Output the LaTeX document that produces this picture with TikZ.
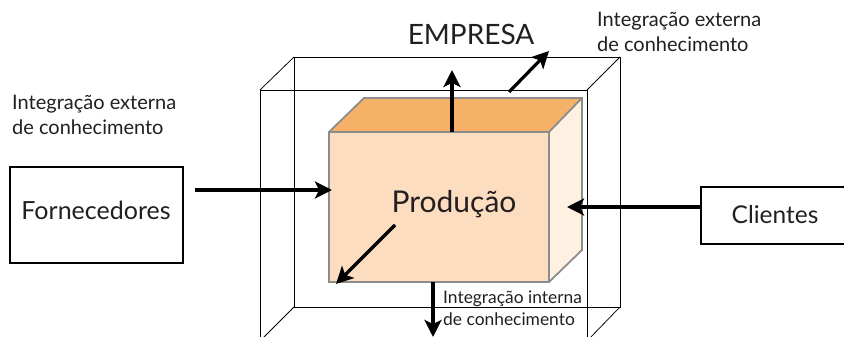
\documentclass[tikz,border=0pt]{standalone}
\usepackage{fontspec}
\setmainfont{Lato}
\usetikzlibrary{arrows.meta}
\definecolor{frontc}{HTML}{FCDDBF}
\definecolor{topc}{HTML}{F5B167}
\definecolor{sidec}{HTML}{FEF1E2}
\definecolor{edgec}{HTML}{8C8C8C}
\definecolor{txt}{HTML}{231F20}
\tikzset{
  frame/.style={draw=black, line width=0.75pt},
  cube/.style={draw=edgec, line width=1.8pt, line join=miter},
  arr/.style={draw=black, line width=3.2pt, -{Stealth[length=17pt,width=17pt,inset=4pt]}},
  extbox/.style={draw=black, line width=1.3pt, inner sep=0pt, text=txt},
  lbl/.style={font=\fontsize{20}{25}\selectfont, text=txt, align=left, inner sep=0pt},
}
\begin{document}
\begin{tikzpicture}[x=1pt,y=-1pt]
\clip (0,0) rectangle (844,337);
\fill[white] (0,0) rectangle (844,337);
% outer wireframe (EMPRESA)
\coordinate (fa) at (260,90);
\coordinate (fb) at (587,90);
\coordinate (fc) at (587,341);
\coordinate (fd) at (260,341);
\coordinate (ba) at (294,57);
\coordinate (bb) at (620,57);
\coordinate (bc) at (620,307);
\coordinate (bd) at (294,307);
\draw[frame] (ba) -- (bb) -- (bc) -- (bd) -- cycle;
\draw[frame] (fa) -- (fb) -- (fc) -- (fd) -- cycle;
\draw[frame] (fa) -- (ba) (fb) -- (bb) (fc) -- (bc) (fd) -- (bd);
% inner box (Produção)
\coordinate (pa) at (329,132);
\coordinate (pb) at (549,132);
\coordinate (pc) at (549,282);
\coordinate (pd) at (329,282);
\coordinate (pe) at (364,98);
\coordinate (pf) at (582,98);
\coordinate (pg) at (582,250);
\fill[topc] (pa) -- (pe) -- (pf) -- (pb) -- cycle;
\fill[sidec] (pb) -- (pf) -- (pg) -- (pc) -- cycle;
\fill[frontc] (pa) -- (pb) -- (pc) -- (pd) -- cycle;
\draw[cube] (pd) -- (pa) -- (pe) -- (pf) -- (pg) -- (pc) -- cycle;
\draw[cube] (pa) -- (pb) -- (pc) (pb) -- (pf);
\node[font=\fontsize{30}{32}\selectfont, text=txt, anchor=base, inner sep=0pt] (prod) at (454,212) {Produção};
% texts
\node[font=\fontsize{28}{32}\selectfont, text=txt, anchor=base, inner sep=0pt] (empresa) at (471,45) {EMPRESA};
\node[lbl, anchor=base west] (ext1) at (597,52) {Integração externa\\de conhecimento};
\node[lbl, anchor=base west] (ext2) at (12,135) {Integração externa\\de conhecimento};
\node[lbl, font=\fontsize{17.4}{22}\selectfont, anchor=base west] (int) at (443,325) {Integração interna\\de conhecimento};
% external boxes
\node[extbox, minimum width=173pt, minimum height=96pt] (forn) at (96.5,215) {};
\node[font=\fontsize{25}{28}\selectfont, text=txt, anchor=base, inner sep=0pt] (forntxt) at (96,219) {Fornecedores};
\node[extbox, minimum width=150pt, minimum height=57pt] (cli) at (776,215.5) {};
\node[font=\fontsize{24.5}{28}\selectfont, text=txt, anchor=base, inner sep=0pt] (clitxt) at (775,223) {Clientes};
% arrows
\coordinate (fs) at (195,190);
\coordinate (ft) at (332,190);
\draw[arr] (fs) -- (ft);
\coordinate (ct) at (567,207);
\draw[arr] (cli.west |- ct) -- (ct);
\coordinate (us) at (452,132);
\coordinate (ut) at (452,70);
\draw[arr] (us) -- (ut);
\coordinate (ds) at (509,92);
\coordinate (dt) at (549,51);
\draw[arr] (ds) -- (dt);
\coordinate (ls) at (395,225);
\coordinate (lt) at (336,284);
\draw[arr] (ls) -- (lt);
\coordinate (bs) at (433,282);
\coordinate (bt) at (433,337);
\draw[arr] (bs) -- (bt);
\end{tikzpicture}
\end{document}
